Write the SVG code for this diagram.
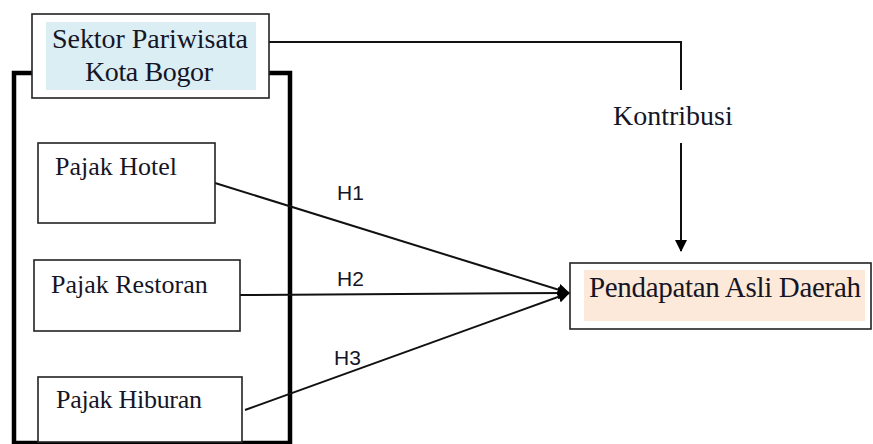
<svg xmlns="http://www.w3.org/2000/svg" width="873" height="444" viewBox="0 0 873 444">
<defs>
<style>
.box{fill:#fff;stroke:#222;stroke-width:1.6}
.serif{font-family:"Liberation Serif","Times New Roman",serif;fill:#151525}
.sans{font-family:"Liberation Sans",Arial,sans-serif;fill:#151525;font-size:21px}
.conn{fill:none;stroke:#111;stroke-width:2}
</style>
<marker id="arr" markerWidth="12" markerHeight="12" refX="11" refY="6" orient="auto" markerUnits="userSpaceOnUse">
<path d="M0,0 L12,6 L0,12 Z" fill="#000"/>
</marker>
</defs>
<rect width="873" height="444" fill="#fff"/>

<g id="frame">
<path d="M32,73 H14 V443 H290 V73 H269" fill="none" stroke="#000" stroke-width="4.5"/>
</g>

<g id="connectors">
<path class="conn" d="M269,42 H681 V90"/>
<path class="conn" d="M681,143 V251" marker-end="url(#arr)"/>
<line class="conn" x1="215" y1="183" x2="569" y2="293" marker-end="url(#arr)"/>
<line class="conn" x1="240" y1="295" x2="569" y2="293" marker-end="url(#arr)"/>
<line class="conn" x1="245" y1="410" x2="569" y2="293" marker-end="url(#arr)"/>
<text class="serif" x="613" y="125" font-size="28">Kontribusi</text>
<text class="sans" x="337" y="200">H1</text>
<text class="sans" x="337" y="286">H2</text>
<text class="sans" x="334" y="365">H3</text>
</g>

<g id="sektor">
<rect class="box" x="32" y="14" width="237" height="84"/>
<rect x="46" y="22" width="210" height="68" fill="#dbeef4"/>
<text class="serif" x="52" y="48" font-size="28" textLength="196">Sektor Pariwisata</text>
<text class="serif" x="85" y="81" font-size="28" textLength="128">Kota Bogor</text>
</g>

<g id="hotel">
<rect class="box" x="38" y="143" width="177" height="80"/>
<text class="serif" x="55" y="175" font-size="26">Pajak Hotel</text>
</g>

<g id="restoran">
<rect class="box" x="34" y="260" width="206" height="71"/>
<text class="serif" x="51" y="293" font-size="26">Pajak Restoran</text>
</g>

<g id="hiburan">
<rect class="box" x="38" y="377" width="204" height="65"/>
<text class="serif" x="56" y="408" font-size="26" textLength="146">Pajak Hiburan</text>
</g>

<g id="pad">
<rect class="box" x="570" y="263" width="301" height="66"/>
<rect x="584" y="270" width="281" height="51" fill="#fde9d9"/>
<text class="serif" x="589" y="297" font-size="29" textLength="272">Pendapatan Asli Daerah</text>
</g>
</svg>
